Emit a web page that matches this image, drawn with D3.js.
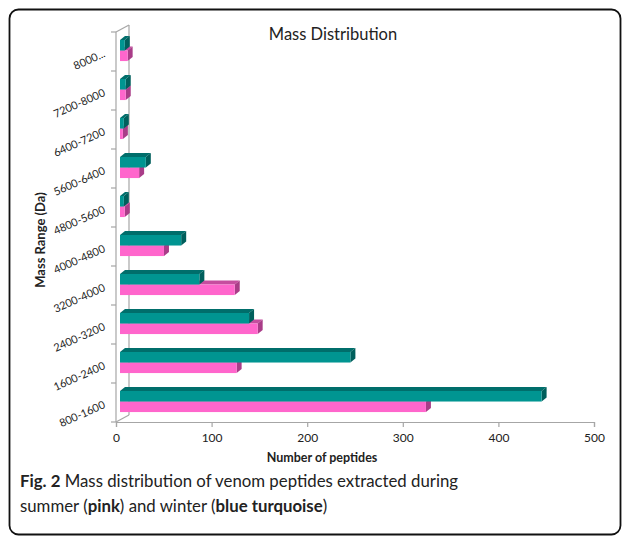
<!DOCTYPE html>
<html><head><meta charset="utf-8">
<script src="https://cdn.jsdelivr.net/npm/d3@7"></script>
<style>
html,body{margin:0;padding:0;background:#fff;}
svg{display:block;}
text{font-family:Lato,"Open Sans",sans-serif;}
</style></head>
<body>
<svg id="chart" width="627" height="536"></svg>
<script>
const categories = ["800-1600","1600-2400","2400-3200","3200-4000","4000-4800","4800-5600","5600-6400","6400-7200","7200-8000","8000..."];
const winter = [441,241,135,83,64,4,27,4,6,5];   // blue turquoise
const summer = [320,122,144,120,46,5,20,3,6,8];  // pink
const xTicks = [0,100,200,300,400,500];

const svg = d3.select("#chart");

// frame
svg.append("rect").attr("x",9.5).attr("y",9.5).attr("width",611).attr("height",525)
  .attr("rx",9).attr("fill","#fff").attr("stroke","#111").attr("stroke-width",1.8);

const x = d3.scaleLinear().domain([0,500]).range([116,594]);
const y = d3.scaleBand().domain(categories).range([422,32]).padding(0);
const bw = y.bandwidth();
const depth = {dx:13, dy:-7};
const bar = {dx:5, dy:-4, off:4};
const axisCol = "#a6a6a6";

// back wall line & depth lines
const g = svg.append("g");
g.append("line").attr("x1",x(0)+depth.dx).attr("x2",x(0)+depth.dx).attr("y1",32+depth.dy).attr("y2",422+depth.dy)
  .attr("stroke",axisCol).attr("stroke-width",1.2);
g.append("line").attr("x1",x(0)).attr("y1",32).attr("x2",x(0)+depth.dx).attr("y2",32+depth.dy).attr("stroke",axisCol).attr("stroke-width",1.2);
g.append("line").attr("x1",x(0)).attr("y1",422).attr("x2",x(0)+depth.dx).attr("y2",422+depth.dy).attr("stroke",axisCol).attr("stroke-width",1.2);

// x axis
const xAxis = d3.axisBottom(x).tickValues(xTicks).tickSize(5).tickPadding(6).tickFormat(d3.format("d"));
const xg = svg.append("g").attr("transform","translate(0,422)").call(xAxis);
xg.select(".domain").attr("stroke",axisCol).attr("stroke-width",1.2);
xg.selectAll(".tick line").attr("stroke",axisCol).attr("stroke-width",1.2);
xg.selectAll(".tick text").attr("font-size",12).attr("fill","#222").attr("font-family","Lato,sans-serif");

// y axis line and ticks at band boundaries
svg.append("line").attr("x1",x(0)).attr("x2",x(0)).attr("y1",32).attr("y2",422).attr("stroke",axisCol).attr("stroke-width",1.2);
const bounds = categories.map(c=>y(c)).concat([y(categories[0])+bw]);
svg.selectAll(".ytick").data(bounds).join("line")
  .attr("x1",x(0)-5).attr("x2",x(0)).attr("y1",d=>d).attr("y2",d=>d)
  .attr("stroke",axisCol).attr("stroke-width",1.2);
svg.selectAll(".ylab").data(categories).join("text")
  .attr("transform",d=>`translate(${x(0)-10},${y(d)+bw/2+5}) rotate(-24)`)
  .attr("text-anchor","end").attr("font-size",11).attr("fill","#222")
  .text(d=>d);

// bars
function drawBar(gp, x0, x1, yt, h, front, dark, side){
  const dx = bar.dx, dy = bar.dy;
  gp.append("path").attr("d",`M${x0},${yt}L${x0+dx},${yt+dy}L${x1+dx},${yt+dy}L${x1},${yt}Z`).attr("fill",dark);
  gp.append("path").attr("d",`M${x1},${yt}L${x1+dx},${yt+dy}L${x1+dx},${yt+h+dy}L${x1},${yt+h}Z`).attr("fill",side);
  gp.append("rect").attr("x",x0).attr("y",yt).attr("width",Math.max(0,x1-x0)).attr("height",h).attr("fill",front);
}
const bh = bw*0.27;
const bg = svg.append("g");
categories.forEach((c,i)=>{
  const top = y(c) + bw*0.205;
  const x0 = x(0)+bar.off;
  drawBar(bg, x0, x(summer[i])+bar.off, top+bh, bh, "#ff66cc", "#c64d9f", "#a93c88");
  drawBar(bg, x0, x(winter[i])+bar.off, top, bh, "#009591", "#006e6b", "#005f5c");
});

// titles
svg.append("text").attr("x",333).attr("y",40).attr("text-anchor","middle").attr("font-size",16.5).attr("fill","#222").text("Mass Distribution");
svg.append("text").attr("x",322).attr("y",462).attr("text-anchor","middle").attr("font-size",12.5).attr("font-weight","bold").attr("fill","#222").text("Number of peptides");
svg.append("text").attr("transform","translate(45,240) rotate(-90)").attr("text-anchor","middle").attr("font-size",13).attr("font-weight","bold").attr("fill","#222").text("Mass Range (Da)");

// caption
const cap = svg.append("g").attr("font-size",16.8).attr("fill","#222");
const l1 = cap.append("text").attr("x",20).attr("y",487);
l1.append("tspan").attr("font-weight","bold").text("Fig. 2");
l1.append("tspan").text(" Mass distribution of venom peptides extracted during");
const l2 = cap.append("text").attr("x",20).attr("y",512);
l2.append("tspan").text("summer (");
l2.append("tspan").attr("font-weight","bold").text("pink");
l2.append("tspan").text(") and winter (");
l2.append("tspan").attr("font-weight","bold").text("blue turquoise");
l2.append("tspan").text(")");
</script>
</body></html>
